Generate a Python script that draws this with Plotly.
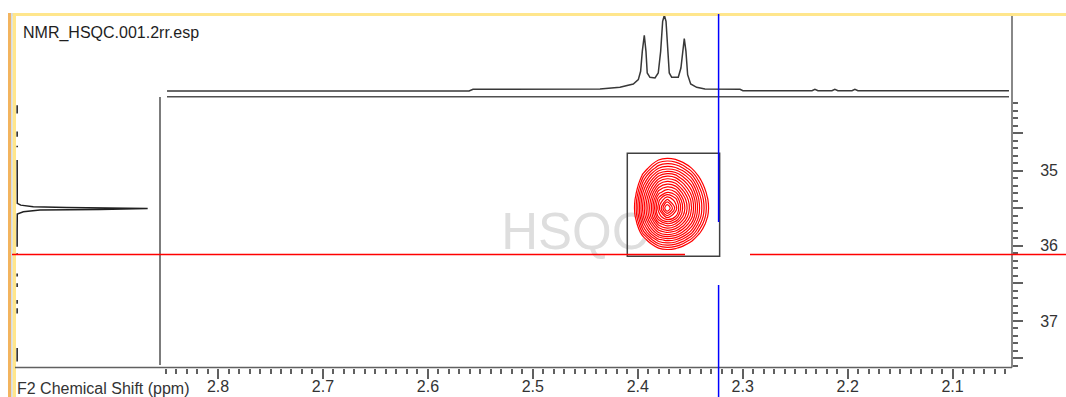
import numpy as np
import plotly.graph_objects as go

W, H = 1066, 397

# ---- 1H projection along F2 (ppm, intensity in % of tallest line) ----
H1_PPM = [2.8486, 2.5608, 2.5570, 2.4360, 2.4170, 2.4043, 2.3995, 2.3973, 2.3957, 2.3938,
          2.3922, 2.3910, 2.3884, 2.3836, 2.3805, 2.3782, 2.3763, 2.3747, 2.3731, 2.3715,
          2.3700, 2.3677, 2.3614, 2.3589, 2.3572, 2.3557, 2.3541, 2.3525, 2.3496, 2.3439,
          2.3360, 2.3026, 2.2998, 2.2340, 2.2312, 2.2283, 2.2150, 2.2122, 2.2093, 2.1959,
          2.1931, 2.1902, 2.0463]
H1_INT = [-0.4, -0.4, 1.9, 2.3, 4.5, 8.9, 14.6, 25.7, 52.2, 73.5,
          52.2, 23.5, 17.8, 16.8, 23.5, 52.2, 92.0, 100.0, 92.0, 52.2,
          23.5, 17.8, 17.8, 30.1, 56.6, 69.0, 52.2, 21.2, 8.9, 4.5,
          2.3, 1.9, 0.0, 0.0, 1.9, 0.0, 0.0, 1.9, 0.0, 0.0,
          1.9, 0.0, 0.0]

# ---- 13C projection along F1 (ppm, intensity in % of the line) ----
C13_PPM = [34.13, 34.24, None, 34.48, 34.55, None, 34.67, 34.69, None,
           34.86, 35.30, 35.436, 35.459, 35.481, 35.489, 35.499, 35.503, 35.516, 35.525,
           35.548, 35.578, 35.80, 36.013, None, 36.10, 36.12, None,
           36.37, 36.41, None, 36.50, 36.55, None, 36.72, 36.77, None,
           36.83, 36.90, None, 37.36, 37.54]
C13_INT = [0.5, 0.5, None, 0.5, 0.5, None, 0.5, 0.5, None,
           0.5, 0.5, 0.6, 3.2, 12.8, 38.3, 76.4, 100.0, 63.6, 17.9,
           5.2, 0.6, 0.5, 0.5, None, 0.5, 0.5, None,
           0.5, 0.5, None, 0.5, 0.5, None, 0.5, 0.5, None,
           0.5, 0.5, None, 0.5, 0.5]

# ---- HSQC cross peak: intensity grid (rows = F1, columns = F2) ----
F2_GRID = [2.410, 2.402, 2.395, 2.387, 2.380, 2.372, 2.364, 2.357, 2.349, 2.342, 2.334, 2.326]
F1_GRID = [34.75, 34.86, 34.97, 35.07, 35.18, 35.29, 35.39, 35.50, 35.61, 35.71,
           35.82, 35.92, 36.03, 36.14]
PEAK_Z = [
    [-8.9, -6.5, -4.4, -2.8, -1.7, -1.3, -1.6, -2.3, -3.4, -4.8, -6.5, -8.4],
    [-7.4, -4.8, -2.5, -0.7, 0.6, 1.0, 0.7, -0.1, -1.3, -2.9, -4.8, -6.9],
    [-6.0, -3.2, -0.7, 1.4, 2.8, 3.3, 3.0, 2.1, 0.6, -1.2, -3.2, -5.5],
    [-4.8, -1.8, 1.0, 3.3, 5.0, 5.7, 5.3, 4.1, 2.4, 0.4, -1.8, -4.2],
    [-3.8, -0.7, 2.4, 5.1, 7.2, 8.0, 7.5, 6.0, 4.1, 1.8, -0.7, -3.2],
    [-3.1, 0.2, 3.5, 6.6, 9.2, 10.3, 9.6, 7.7, 5.4, 2.9, 0.2, -2.4],
    [-2.7, 0.8, 4.2, 7.6, 10.8, 12.7, 11.4, 8.9, 6.3, 3.6, 0.8, -2.0],
    [-2.5, 1.0, 4.5, 8.0, 11.5, 15.0, 12.2, 9.4, 6.6, 3.8, 1.0, -1.8],
    [-2.7, 0.7, 4.1, 7.5, 10.5, 12.2, 11.0, 8.7, 6.1, 3.5, 0.7, -2.0],
    [-3.4, -0.1, 3.1, 6.0, 8.4, 9.4, 8.7, 7.1, 4.9, 2.5, -0.1, -2.7],
    [-4.4, -1.3, 1.6, 4.1, 5.9, 6.6, 6.1, 4.9, 3.1, 1.0, -1.3, -3.8],
    [-5.8, -2.9, -0.4, 1.8, 3.3, 3.8, 3.5, 2.5, 1.0, -0.8, -2.9, -5.2],
    [-7.4, -4.8, -2.5, -0.7, 0.6, 1.0, 0.7, -0.1, -1.3, -2.9, -4.8, -6.9],
    [-9.3, -6.9, -4.8, -3.2, -2.2, -1.8, -2.0, -2.7, -3.8, -5.2, -6.9, -8.8],
]

# ---- axes, ticks, cursors ----
F2_RANGE = [2.8553, 2.0434]
F1_RANGE = [37.62, 34.02]
TOP_INT_RANGE = [-8.35, 107.0]
LEFT_INT_RANGE = [-0.38, 109.4]
F1_TICKS = [34.5, 35.0, 35.5, 36.0, 36.5, 37.0, 37.5]
F1_LABELS = ["", "35", "", "36", "", "37", ""]
CURSOR_F2 = 2.323
CURSOR_F1 = 36.115
SELECT_BOX = (2.410, 2.322, 34.77, 36.14)

FONT = "Arial, Liberation Sans, sans-serif"
FRAME = "#606060"
TEXT = "#333333"


def px(x):
    return x / W


def py(y):
    return 1 - y / H


fig = go.Figure()

# contour map (reverse column order so F2 increases)
z = np.array(PEAK_Z)[:, ::-1]
fig.add_trace(go.Contour(
    x=F2_GRID[::-1], y=F1_GRID, z=z,
    contours=dict(coloring="lines", start=0.5, end=14.6, size=0.75),
    line=dict(width=1.2, smoothing=1.0),
    colorscale=[[0, "#ff0000"], [1, "#ff0000"]],
    showscale=False, hoverinfo="skip",
    xaxis="x", yaxis="y",
))

# top 1D projection
fig.add_trace(go.Scatter(
    x=H1_PPM, y=H1_INT, mode="lines",
    line=dict(color="#383838", width=1.5),
    xaxis="x2", yaxis="y2", hoverinfo="skip", showlegend=False,
))

# left 1D projection
fig.add_trace(go.Scatter(
    x=C13_INT, y=C13_PPM, mode="lines",
    line=dict(color="#202020", width=1.5),
    xaxis="x3", yaxis="y3", hoverinfo="skip", showlegend=False,
    connectgaps=False,
))

main_x = [px(160), px(1012)]
main_y = [py(367.5), py(97)]

fig.update_layout(
    width=W, height=H,
    margin=dict(l=0, r=0, t=0, b=0),
    paper_bgcolor="white", plot_bgcolor="rgba(0,0,0,0)",
    showlegend=False,
    font=dict(family=FONT, size=16, color=TEXT),
    xaxis=dict(
        domain=main_x, range=F2_RANGE, anchor="y",
        showgrid=False, zeroline=False, showline=False,
        ticks="outside", tick0=2.0, dtick=0.1, ticklen=10, tickwidth=1.5,
        tickcolor=FRAME, tickfont=dict(family=FONT, size=16, color=TEXT),
        ticklabelstandoff=-6, automargin=False,
        minor=dict(ticks="outside", tick0=2.0, dtick=0.01, ticklen=5,
                   tickwidth=1.5, tickcolor=FRAME, showgrid=False),
    ),
    yaxis=dict(
        domain=main_y, range=F1_RANGE, anchor="x", side="right",
        showgrid=False, zeroline=False, showline=False,
        ticks="outside", tickmode="array", tickvals=F1_TICKS, ticktext=F1_LABELS,
        ticklen=10, tickwidth=1.5, tickcolor=FRAME,
        tickfont=dict(family=FONT, size=16, color=TEXT),
        ticklabelstandoff=14, automargin=False,
        minor=dict(ticks="outside", tick0=34.0, dtick=0.1, ticklen=5,
                   tickwidth=1.5, tickcolor=FRAME, showgrid=False),
    ),
    xaxis2=dict(domain=main_x, range=F2_RANGE, anchor="y2", visible=False),
    yaxis2=dict(domain=[py(97), py(10)], range=TOP_INT_RANGE, anchor="x2", visible=False),
    xaxis3=dict(domain=[px(16), px(160)], range=LEFT_INT_RANGE, anchor="y3", visible=False),
    yaxis3=dict(domain=main_y, range=F1_RANGE, anchor="x3", visible=False),
)

shapes = []


def rect(x0, y0, x1, y1, color):
    shapes.append(dict(type="rect", xref="paper", yref="paper",
                       x0=px(x0), x1=px(x1), y0=py(y1), y1=py(y0),
                       fillcolor=color, line=dict(width=0), layer="above"))


def pline(x0, y0, x1, y1, color=FRAME, width=1.5):
    shapes.append(dict(type="line", xref="paper", yref="paper",
                       x0=px(x0), x1=px(x1), y0=py(y0), y1=py(y1),
                       line=dict(color=color, width=width)))


# watermark behind the contours
shapes.append(dict(type="rect", xref="x domain", yref="y domain",
                   x0=0.437, x1=0.537, y0=0.471, y1=0.571,
                   line=dict(width=0), fillcolor="rgba(0,0,0,0)", layer="below",
                   label=dict(text="HSQC", textposition="middle center",
                              font=dict(family=FONT, size=51, color="#dedede"))))

# window frame accents
rect(11, 13, 1066, 16, "#ffe68c")
rect(8, 13, 11, 397, "#f3b45e")
rect(11, 13, 12.7, 397, "#d2dcea")
rect(12.7, 16, 16, 397, "#ffe68c")

# panel frame lines
pline(15, 367.5, 1012, 367.5)
pline(1012, 16, 1012, 367.5)
pline(167, 96.7, 1009, 96.7, "#505050")
pline(160, 97, 160, 365, "#505050")

# selection box around the cross peak
shapes.append(dict(type="rect", xref="x", yref="y",
                   x0=SELECT_BOX[0], x1=SELECT_BOX[1], y0=SELECT_BOX[2], y1=SELECT_BOX[3],
                   line=dict(color="#404040", width=1.5)))

# cursors
for x0, x1 in [(12, 685), (750, 1066)]:
    shapes.append(dict(type="line", xref="paper", yref="y",
                       x0=px(x0), x1=px(x1), y0=CURSOR_F1, y1=CURSOR_F1,
                       line=dict(color="#ff0000", width=1.5)))
for y0, y1 in [(14, 222), (285, 397)]:
    shapes.append(dict(type="line", xref="x", yref="paper",
                       x0=CURSOR_F2, x1=CURSOR_F2, y0=py(y1), y1=py(y0),
                       line=dict(color="#0000ff", width=1.5)))

fig.update_layout(shapes=shapes)

fig.add_annotation(text="NMR_HSQC.001.2rr.esp", xref="paper", yref="paper",
                   x=px(21), y=py(32.5), xanchor="left", yanchor="middle",
                   showarrow=False, font=dict(family=FONT, size=16, color="#1e1e1e"))
fig.add_annotation(text="F2 Chemical Shift (ppm)", xref="paper", yref="paper",
                   x=px(15), y=py(388.5), xanchor="left", yanchor="middle",
                   showarrow=False, font=dict(family=FONT, size=16, color=TEXT))

fig.write_html("out.html")
